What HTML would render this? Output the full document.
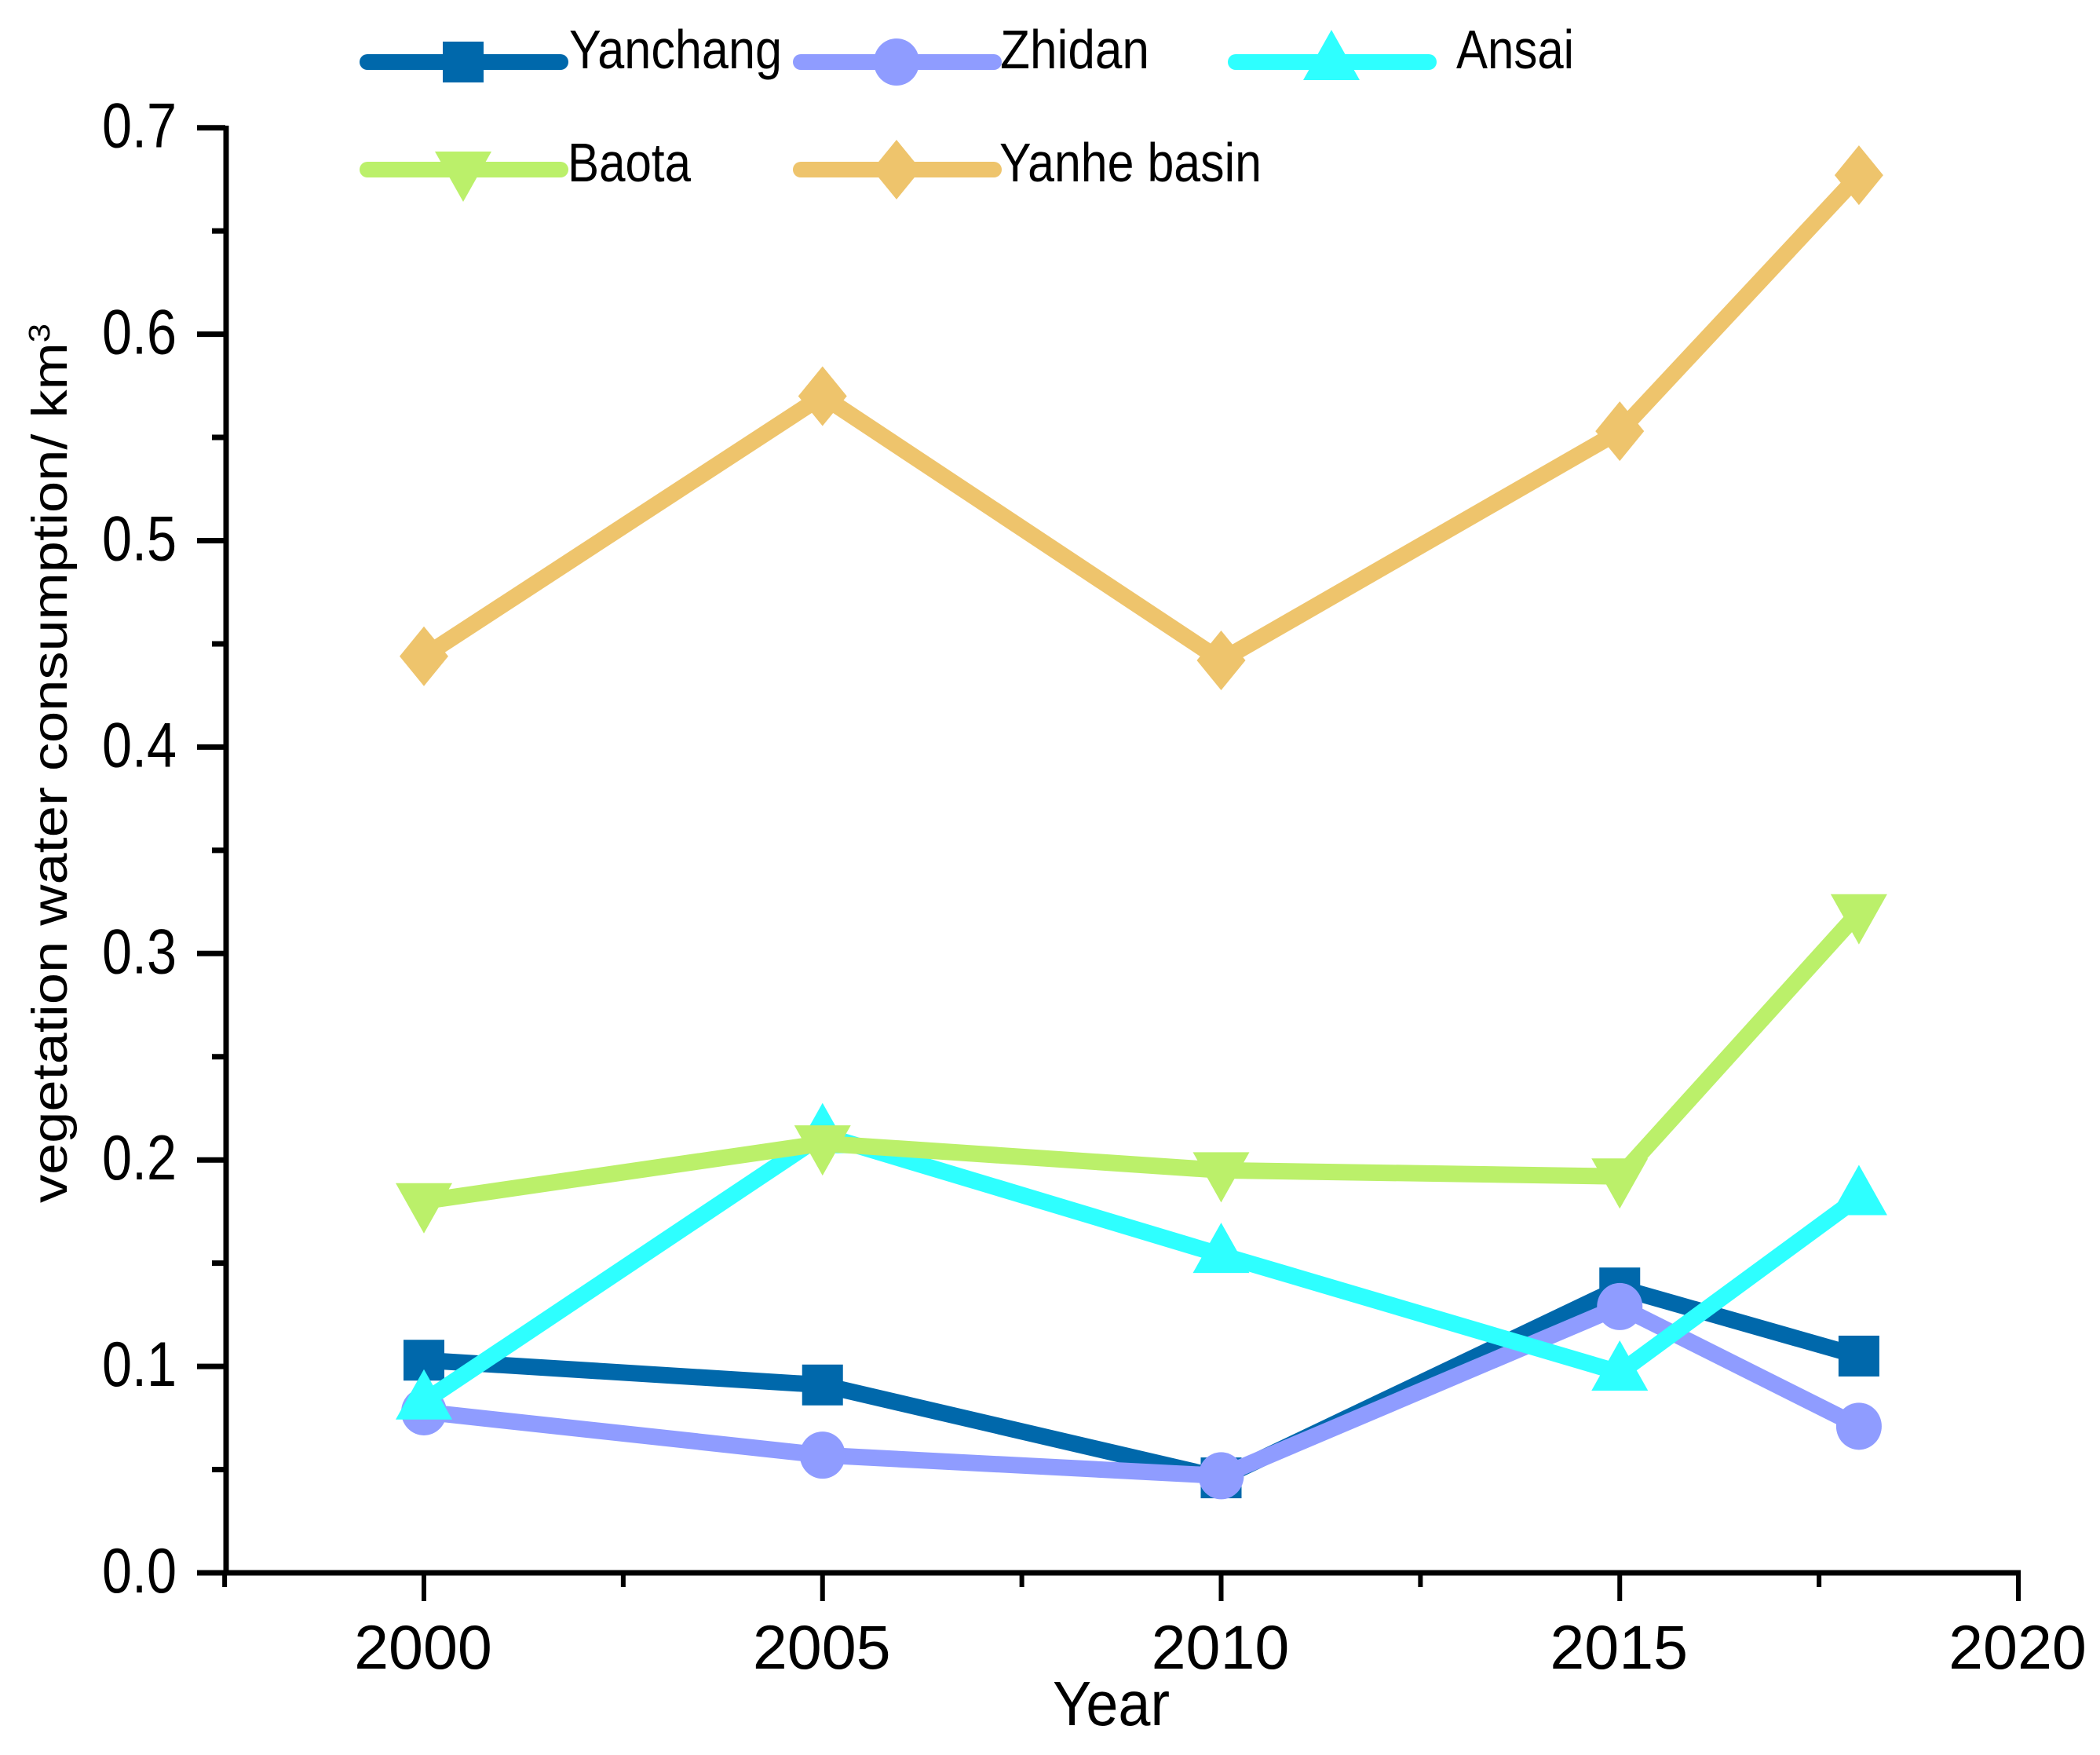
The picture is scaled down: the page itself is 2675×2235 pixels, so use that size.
<!DOCTYPE html>
<html lang="en">
<head>
<meta charset="utf-8">
<title>Vegetation water consumption</title>
<style>
html,body{margin:0;padding:0;background:#fff;}
svg{display:block;}
text{font-family:"Liberation Sans",Arial,sans-serif;fill:#000;}
</style>
</head>
<body>
<svg id="chart" xmlns="http://www.w3.org/2000/svg" width="2675" height="2235" viewBox="0 0 2675 2235">
  <rect width="2675" height="2235" fill="#ffffff"/>
  <g id="axes"></g>
  <g id="series"></g>
  <text transform="translate(85,1532) rotate(-90)" font-size="63" textLength="1120" lengthAdjust="spacingAndGlyphs">vegetation water consumption/ km<tspan dy="-22" font-size="38">3</tspan></text>
  <text x="1341" y="2197" font-size="80" textLength="149" lengthAdjust="spacingAndGlyphs">Year</text>
  <g id="legend"></g>
</svg>
<script>
var years = [2000, 2005, 2010, 2015, 2018];
var yanchang = [0.103, 0.091, 0.046, 0.138, 0.105];
var zhidan = [0.078, 0.057, 0.047, 0.129, 0.071];
var ansai = [0.083, 0.212, 0.154, 0.097, 0.182];
var baota = [0.180, 0.208, 0.195, 0.192, 0.320];
var yanheBasin = [0.444, 0.570, 0.442, 0.553, 0.677];
var xMajorTicks = [2000, 2005, 2010, 2015, 2020];
var xMinorTicks = [1997.5, 2002.5, 2007.5, 2012.5, 2017.5];
var yMajorTicks = [0, 0.1, 0.2, 0.3, 0.4, 0.5, 0.6, 0.7];
var yMinorTicks = [0.05, 0.15, 0.25, 0.35, 0.45, 0.55, 0.65];

var NS = 'http://www.w3.org/2000/svg';
function xScale(v) { return 540 + (v - 2000) * 101.55; }
function yScale(v) { return 2003 - v * 2629; }

function make(tag, parent) {
  var el = document.createElementNS(NS, tag);
  parent.appendChild(el);
  return el;
}
function drawLine(parent, x1, y1, x2, y2, w) {
  var l = make('line', parent);
  l.setAttribute('x1', x1);
  l.setAttribute('y1', y1);
  l.setAttribute('x2', x2);
  l.setAttribute('y2', y2);
  l.setAttribute('stroke', '#000');
  l.setAttribute('stroke-width', w);
  return l;
}
function drawMarker(parent, kind, x, y, color) {
  var m;
  if (kind === 'square') {
    m = make('rect', parent);
    m.setAttribute('x', x - 26);
    m.setAttribute('y', y - 26);
    m.setAttribute('width', 52);
    m.setAttribute('height', 52);
  } else if (kind === 'circle') {
    m = make('ellipse', parent);
    m.setAttribute('cx', x);
    m.setAttribute('cy', y);
    m.setAttribute('rx', 29);
    m.setAttribute('ry', 30);
  } else {
    m = make('polygon', parent);
    var pts;
    if (kind === 'triangle-up') {
      pts = [[x, y - 41], [x + 36, y + 23], [x - 36, y + 23]];
    } else if (kind === 'triangle-down') {
      pts = [[x - 36, y - 23], [x + 36, y - 23], [x, y + 41]];
    } else {
      pts = [[x, y - 38], [x + 31, y], [x, y + 38], [x - 31, y]];
    }
    m.setAttribute('points', pts.map(function (p) { return p.join(','); }).join(' '));
  }
  m.setAttribute('fill', color);
  return m;
}

var axes = document.getElementById('axes');
var yAxisLine = drawLine(axes, 288, 160, 288, 2006, 7);


var xAxisLine = drawLine(axes, 284, 2003, 2574, 2003, 7);



yMajorTicks.forEach(function (v) {
  var t = drawLine(axes, 251, yScale(v), 287, yScale(v), 7);
  
  
  var label = make('text', axes);
  
  
  label.setAttribute('x', 130);
  label.setAttribute('y', yScale(v) + 25);
  label.setAttribute('font-size', 81);
  label.setAttribute('textLength', 95);
  label.setAttribute('lengthAdjust', 'spacingAndGlyphs');
  label.textContent = v.toFixed(1);
});
yMinorTicks.forEach(function (v) {
  var t = drawLine(axes, 270, yScale(v), 287, yScale(v), 7);
  
  
});
xMajorTicks.forEach(function (v) {
  var t = drawLine(axes, xScale(v), 2003, xScale(v), 2039, 6);
  
  
  var label = make('text', axes);
  
  
  label.setAttribute('x', xScale(v) - 1);
  label.setAttribute('y', 2125);
  label.setAttribute('font-size', 79);
  label.setAttribute('text-anchor', 'middle');
  label.textContent = String(v);
});
xMinorTicks.forEach(function (v) {
  var t = drawLine(axes, xScale(v), 2003, xScale(v), 2021, 6);
  
  
});

var seriesNames = ['Yanchang', 'Zhidan', 'Ansai', 'Baota', 'Yanhe basin'];
var seriesValues = [yanchang, zhidan, ansai, baota, yanheBasin];
var seriesColors = ['#0068ab', '#8f9cff', '#2effff', '#bbf06a', '#eec46c'];
var seriesMarkers = ['square', 'circle', 'triangle-up', 'triangle-down', 'diamond'];

var seriesLayer = document.getElementById('series');
seriesNames.forEach(function (name, i) {
  var slug = name.toLowerCase().replace(' ', '-');
  var g = make('g', seriesLayer);
  
  
  var line = make('polyline', g);
  
  
  line.setAttribute('fill', 'none');
  line.setAttribute('stroke', seriesColors[i]);
  line.setAttribute('stroke-width', 21);
  line.setAttribute('stroke-linejoin', 'round');
  line.setAttribute('points', seriesValues[i].map(function (v, k) {
    return xScale(years[k]) + ',' + yScale(v);
  }).join(' '));
  seriesValues[i].forEach(function (v, k) {
    var m = drawMarker(g, seriesMarkers[i], xScale(years[k]), yScale(v), seriesColors[i]);
    
    
  });
});

var legendX1 = [458, 1010, 1564, 458, 1010];
var legendY = [79, 79, 79, 216, 216];
var legendTextX = [725, 1274, 1855, 723, 1273];
var legendTextWidth = [271, 190, 150, 157, 334];
var legend = document.getElementById('legend');
seriesNames.forEach(function (name, i) {
  var slug = name.toLowerCase().replace(' ', '-');
  var g = make('g', legend);
  
  
  var l = make('line', g);
  
  
  l.setAttribute('x1', legendX1[i] + 10);
  l.setAttribute('x2', legendX1[i] + 256);
  l.setAttribute('y1', legendY[i]);
  l.setAttribute('y2', legendY[i]);
  l.setAttribute('stroke', seriesColors[i]);
  l.setAttribute('stroke-width', 20);
  l.setAttribute('stroke-linecap', 'round');
  var m = drawMarker(g, seriesMarkers[i], legendX1[i] + 132, legendY[i], seriesColors[i]);
  
  
  var t = make('text', g);
  
  
  t.setAttribute('x', legendTextX[i]);
  t.setAttribute('y', legendY[i] + (i < 3 ? 8 : 15));
  t.setAttribute('font-size', 70);
  t.setAttribute('textLength', legendTextWidth[i]);
  t.setAttribute('lengthAdjust', 'spacingAndGlyphs');
  t.textContent = name;
});
</script>
</body>
</html>
